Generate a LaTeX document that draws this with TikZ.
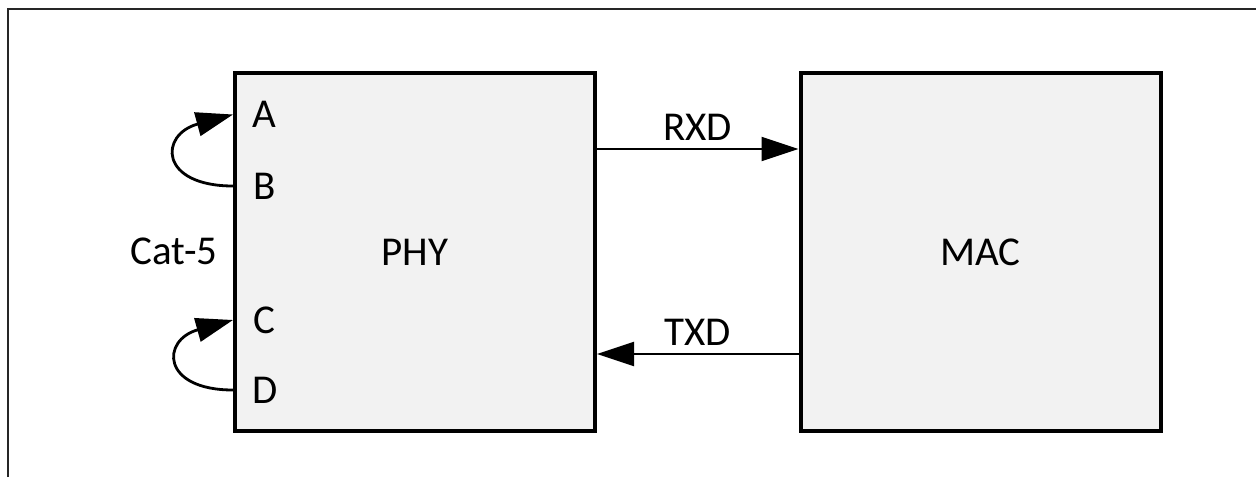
\documentclass[tikz,border=0pt]{standalone}
\usepackage{fontspec}
\setmainfont{Carlito}
\definecolor{boxgray}{RGB}{242,242,242}
\usetikzlibrary{arrows.meta, positioning}

\begin{document}
\begin{tikzpicture}[
    x=0.5pt, y=-0.5pt,
    font=\fontsize{20.5}{24}\selectfont,
    box/.style={draw, line width=2pt, fill=boxgray, minimum width=180pt, minimum height=179pt},
    pin/.style={inner sep=0pt},
    sig/.style={inner sep=4pt},
    arr/.style={-{Triangle[length=18.5pt, width=12pt]}, line width=1pt},
    loop/.style={arr, line width=1.4pt}
]
    \useasboundingbox (0,0) rectangle (1256,477);
    % frame
    \draw[line width=0.75pt, black!85] (8,477) -- (8,9) -- (1256,9);

    \node[box] (phy) at (415,252) {PHY};
    \node[box] (mac) at (980.5,252) {MAC};

    \node[pin] (a) at (264.5,114.5) {A};
    \node[pin] (b) at (265,186) {B};
    \node[pin] (c) at (264,320) {C};
    \node[pin] (d) at (265,390) {D};
    \node[pin] (cat) at (174,251) {Cat-5};

    % loopbacks
    \draw[loop] (phy.west |- b) .. controls +(-74,0) and +(-74,20) .. (phy.west |- a);
    \draw[loop] (phy.west |- d) .. controls +(-72,0) and +(-72,20) .. (phy.west |- c);

    \coordinate (rx) at (0,149);
    \coordinate (tx) at (0,354);
    \draw[arr] (phy.east |- rx) -- node[sig, above] {RXD} (mac.west |- rx);
    \draw[arr] (mac.west |- tx) -- node[sig, above] {TXD} (phy.east |- tx);
\end{tikzpicture}
\end{document}
